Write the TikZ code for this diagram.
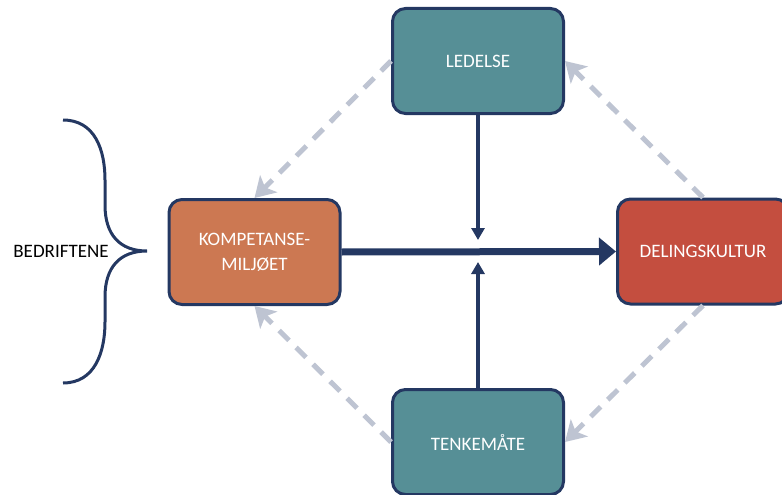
\documentclass[tikz,border=0pt]{standalone}
\usepackage{fontspec}
\setmainfont{Carlito}
\usepackage{tikz}
\usetikzlibrary{arrows.meta}
\definecolor{navy}{RGB}{36,56,98}
\definecolor{tealbox}{RGB}{86,143,150}
\definecolor{orangebox}{RGB}{204,120,82}
\definecolor{redbox}{RGB}{196,78,63}
\definecolor{lightlink}{RGB}{190,196,210}

\tikzset{
  box/.style={draw=navy, line width=3pt, rounded corners=13pt,
    minimum width=171pt, minimum height=105pt, inner sep=0pt,
    text=white, align=center, font=\fontsize{19}{25}\selectfont},
  link/.style={draw=lightlink, line width=5pt, dash pattern=on 14pt off 10pt,
    -{Stealth[length=20pt,width=24pt,inset=5pt]}},
  mainlink/.style={draw=navy, line width=7pt, -{Triangle[length=17pt,width=27pt]}},
  sidelink/.style={draw=navy, line width=3.5pt, -{Triangle[length=12pt,width=13pt]}}
}

\begin{document}
\begin{tikzpicture}[x=1pt,y=-1pt]
  \useasboundingbox (0,0) rectangle (782,495);
  \clip (0,0) rectangle (782,495);

  % Drawing the four boxes
  \node[box, fill=tealbox] (ledelse) at (478,61) {LEDELSE};
  \node[box, fill=orangebox] (kompetanse) at (254.5,252) {KOMPETANSE-\\MILJØET};
  \node[box, fill=redbox] (deling) at (703,251.5) {DELINGSKULTUR};
  \node[box, fill=tealbox] (tenkemaate) at (478,442) {TENKEMÅTE};

  % Drawing the arrows
  \coordinate (meettop) at (478,240);
  \coordinate (meetbot) at (478,262);
  \draw[mainlink] (kompetanse.east) -- (deling.west);
  \draw[sidelink] (ledelse.south) -- (meettop);
  \draw[sidelink] (tenkemaate.north) -- (meetbot);

  \draw[link] (ledelse.west) -- (kompetanse.north);
  \draw[link] (deling.north) -- (ledelse.east);
  \draw[link] (deling.south) -- (tenkemaate.east);
  \draw[link] (tenkemaate.west) -- (kompetanse.south);

  % Drawing the brace
  \node[font=\fontsize{19}{25}\selectfont] (bedriftene) at (61,251) {BEDRIFTENE};
  \draw[navy, line width=3pt]
    (63,120) .. controls (95,120) and (105,150) .. (105,180) -- (105,205)
    .. controls (105,235) and (120,251) .. (147,251)
    .. controls (120,251) and (105,267) .. (105,297) -- (105,322)
    .. controls (105,352) and (95,383) .. (63,383);
\end{tikzpicture}
\end{document}
